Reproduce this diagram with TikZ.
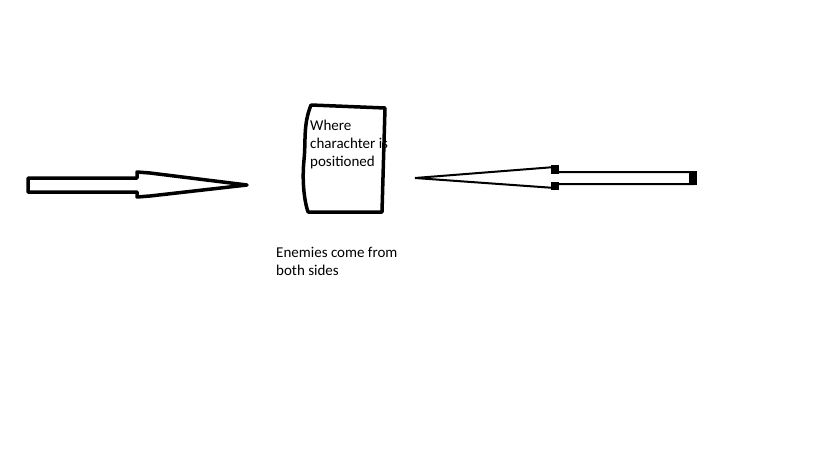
\documentclass[tikz,border=0pt]{standalone}
\usepackage{fontspec}
\setmainfont{Carlito}
\begin{document}
\begin{tikzpicture}[x=1pt,y=-1pt,
  paint/.style={line width=3.5pt,line join=round,line cap=round,black},
  thinpaint/.style={line width=2pt,line join=miter,black},
  lbl/.style={anchor=base west,inner sep=0pt,font=\fontsize{15pt}{18pt}\selectfont,align=left}]
\useasboundingbox[fill=white] (0,0) rectangle (819,460);
% left arrow
\draw[paint] (28,178) -- (137,178) -- (137,172) -- (150,173) -- (247,185)
  -- (150,196) -- (137,197) -- (137,192) -- (28,192) -- cycle;
% box
\draw[paint] (311,105) -- (385,108) -- (382,212) -- (308,212)
  .. controls (304,200) and (302,180) .. (304,160)
  .. controls (306,140) and (303,125) .. (311,105);
% right arrow
\draw[thinpaint] (415,178) -- (555,167) -- (555,172) -- (693,172) -- (693,184)
  -- (555,184) -- (555,188) -- cycle;
\fill (551,165) rectangle (559,174);
\fill (551,182) rectangle (559,190);
\fill (689,171) rectangle (697,185);
% texts
\node[lbl] (where) at (310,130) {Where};
\node[lbl] (char) at (310,148) {charachter is};
\node[lbl] (pos) at (310,166) {positioned};
\node[lbl] (en1) at (276,257) {Enemies come from};
\node[lbl] (en2) at (276,275) {both sides};
\end{tikzpicture}
\end{document}
